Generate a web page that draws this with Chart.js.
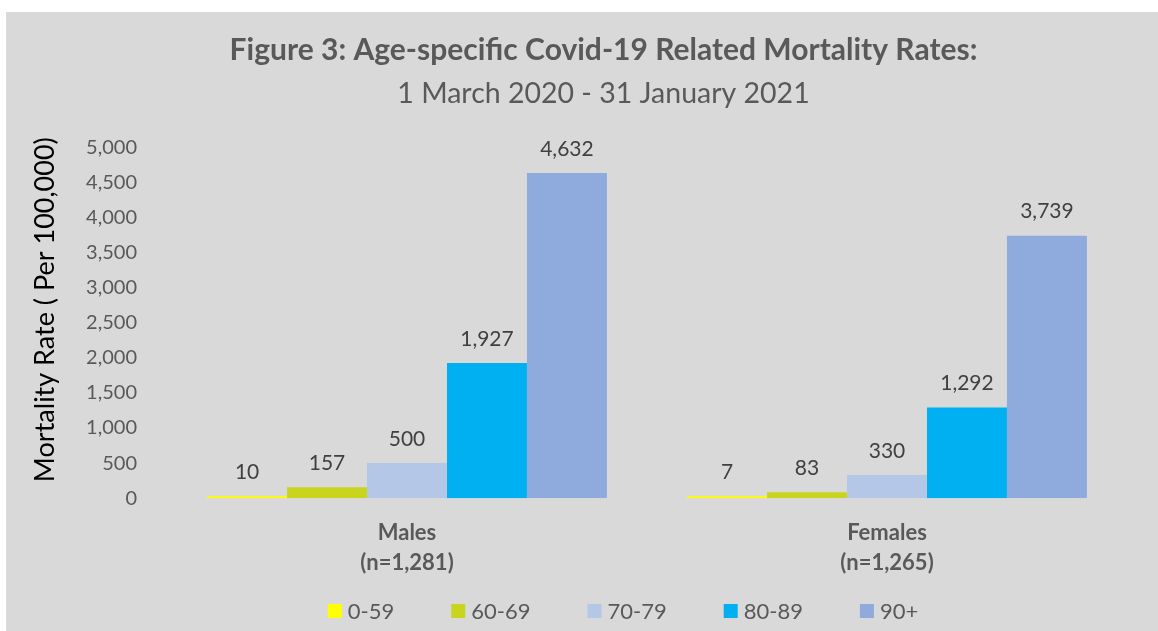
<!DOCTYPE html>
<html>
<head>
<meta charset="utf-8">
<script src="https://cdn.jsdelivr.net/npm/chart.js@4"></script>
<style>
  body { margin: 0; background: #ffffff; overflow: hidden; }
  #frame { position: absolute; left: 6px; top: 12px; width: 1152px; height: 619px; background: #d9d9d9; }
</style>
</head>
<body>
<div id="frame"><canvas id="chart" width="1152" height="619"></canvas></div>
<script>
// Datos del gráfico
const categories = [['Males', '(n=1,281)'], ['Females', '(n=1,265)']];
const ageGroups = ['0-59', '60-69', '70-79', '80-89', '90+'];
const rates0to59 = [10, 7];
const rates60to69 = [157, 83];
const rates70to79 = [500, 330];
const rates80to89 = [1927, 1292];
const rates90plus = [4632, 3739];
const yTicks = [0, 500, 1000, 1500, 2000, 2500, 3000, 3500, 4000, 4500, 5000];
const yTitle = 'Mortality Rate ( Per 100,000)';

const seriesValues = [rates0to59, rates60to69, rates70to79, rates80to89, rates90plus];
const colors = ['#ffff00', '#c8d41e', '#b4c7e7', '#00b0f0', '#8faadc'];
const fontFamily = 'Lato, "Open Sans", sans-serif';

// Plugin: etiquetas de valor, título del eje Y y leyenda estilo Excel
const extras = {
    id: 'extras',
    afterDatasetsDraw(chart) {
        const ctx = chart.ctx;
        const area = chart.chartArea;
        ctx.save();
        ctx.font = `21px ${fontFamily}`;
        ctx.fillStyle = '#404040';
        ctx.textAlign = 'center';
        ctx.textBaseline = 'middle';
        chart.data.datasets.forEach((ds, i) => {
            chart.getDatasetMeta(i).data.forEach((bar, j) => {
                ctx.fillText(ds.data[j].toLocaleString('en-US'), bar.x, bar.y - 24);
            });
        });

        // título del eje Y, algo por encima del centro del área
        ctx.save();
        ctx.translate(39, (area.top + area.bottom) / 2 - 13);
        ctx.rotate(-Math.PI / 2);
        ctx.font = `27px ${fontFamily}`;
        ctx.fillStyle = '#000000';
        ctx.fillText(yTitle, 0, 0);
        ctx.restore();

        // leyenda: cuadro 14px, 6px hasta el texto, 57px entre elementos
        ctx.font = `22px ${fontFamily}`;
        ctx.textAlign = 'left';
        const widths = chart.data.datasets.map(ds => 14 + 6 + ctx.measureText(ds.label).width);
        const total = widths.reduce((a, b) => a + b, 0) + 57 * (widths.length - 1);
        let x = 617 - total / 2;
        const y = 599;
        chart.data.datasets.forEach((ds, i) => {
            ctx.fillStyle = ds.backgroundColor;
            ctx.fillRect(x, y - 7, 14, 14);
            ctx.fillStyle = '#595959';
            ctx.fillText(ds.label, x + 20, y + 1);
            x += widths[i] + 57;
        });
        ctx.restore();
    }
};

new Chart(document.getElementById('chart'), {
    type: 'bar',
    data: {
        labels: categories,
        datasets: ageGroups.map((g, i) => ({
            label: g,
            data: seriesValues[i],
            backgroundColor: colors[i],
            barPercentage: 1,
            categoryPercentage: 0.833,
            minBarLength: 2
        }))
    },
    options: {
        responsive: false,
        animation: false,
        layout: { padding: { left: 74, right: 31, top: 0, bottom: 41 } },
        plugins: {
            title: {
                display: true,
                text: 'Figure 3: Age-specific Covid-19 Related Mortality Rates:',
                color: '#595959',
                font: { family: fontFamily, size: 30, weight: 'bold' },
                padding: { top: 20, bottom: 4 }
            },
            subtitle: {
                display: true,
                text: '1 March 2020 - 31 January 2021',
                color: '#595959',
                font: { family: fontFamily, size: 28.5 },
                padding: { top: 5, bottom: 36 }
            },
            legend: { display: false },
            tooltip: { enabled: false }
        },
        scales: {
            x: {
                grid: { display: false },
                border: { display: false },
                ticks: {
                    color: '#595959',
                    font: { family: fontFamily, size: 22, weight: 'bold', lineHeight: 1.36 },
                    padding: 12
                }
            },
            y: {
                min: 0,
                max: 5000,
                afterBuildTicks: (scale) => { scale.ticks = yTicks.map(v => ({ value: v })); },
                afterFit: (scale) => { scale.width = 87; },
                grid: { display: false },
                border: { display: false },
                ticks: {
                    color: '#595959',
                    font: { family: fontFamily, size: 20 },
                    padding: 22,
                    callback: (v) => v.toLocaleString('en-US')
                }
            }
        }
    },
    plugins: [extras]
});
</script>
</body>
</html>
